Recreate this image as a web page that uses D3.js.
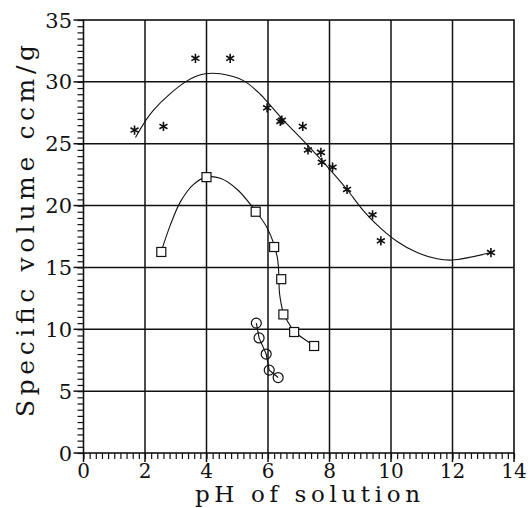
<!DOCTYPE html>
<html>
<head>
<meta charset="utf-8">
<script src="https://cdn.jsdelivr.net/npm/d3@7"></script>
<style>
  body { margin: 0; background: #fff; }
  svg { display: block; }
</style>
</head>
<body>
<div id="chart"></div>
<script>
// measured points: asterisks
const starPH  = [1.66, 2.6, 3.64, 4.77, 5.97, 6.4, 6.45, 7.13, 7.3, 7.72, 7.75, 8.1, 8.57, 9.4, 9.67, 13.25]
const starVol = [26.1, 26.4, 31.9, 31.9, 27.9, 26.8, 26.9, 26.4, 24.5, 24.3, 23.5, 23.1, 21.3, 19.25, 17.15, 16.2]
// fitted curve through the asterisks
const starFitPH  = [1.69, 2.27, 3.38, 3.96, 4.45, 5.2, 5.75, 5.97, 6.5, 7.2, 8.0, 8.57, 9.1, 9.65, 10.2, 10.85, 11.5, 12.0, 13.25]
const starFitVol = [25.5, 27.7, 30.1, 30.65, 30.65, 30.1, 29.0, 28.4, 26.9, 25.1, 22.95, 21.3, 19.6, 18.2, 17.1, 16.2, 15.7, 15.6, 16.2]

// squares
const sqPH  = [2.53, 4.0, 5.6, 6.2, 6.43, 6.5, 6.85, 7.5]
const sqVol = [16.25, 22.3, 19.5, 16.65, 14.05, 11.2, 9.78, 8.65]
// smooth part of the square curve
const sqFitPH  = [2.53, 2.82, 3.15, 3.57, 4.0, 4.45, 5.0, 5.52, 5.97, 6.3, 6.38, 6.5]
const sqFitVol = [16.3, 18.4, 20.3, 21.7, 22.3, 22.2, 21.3, 19.8, 18.2, 15.85, 12.8, 11.2]

// circles
const circPH  = [5.62, 5.71, 5.94, 6.04, 6.33]
const circVol = [10.5, 9.3, 8.0, 6.7, 6.1]

const xTicks = [0, 2, 4, 6, 8, 10, 12, 14]
const yTicks = [0, 5, 10, 15, 20, 25, 30, 35]

const W = 530, H = 508
const plotL = 83.5, plotR = 514, plotT = 20, plotB = 453
const FONT = "DejaVu Serif"

const svg = d3.select("#chart").append("svg")
  .attr("width", W).attr("height", H)

const x = d3.scaleLinear().domain([0, 14]).range([plotL, plotR])
const y = d3.scaleLinear().domain([0, 35]).range([plotB, plotT])

// grid
svg.append("g").selectAll("line")
  .data(xTicks.slice(1, -1)).join("line")
  .attr("x1", d => x(d)).attr("x2", d => x(d))
  .attr("y1", plotT).attr("y2", plotB)
  .attr("stroke", "#111").attr("stroke-width", 1.5)
svg.append("g").selectAll("line")
  .data(yTicks.slice(1, -1)).join("line")
  .attr("x1", plotL).attr("x2", plotR)
  .attr("y1", d => y(d)).attr("y2", d => y(d))
  .attr("stroke", "#111").attr("stroke-width", 1.5)

// frame
svg.append("rect")
  .attr("x", plotL).attr("y", plotT)
  .attr("width", plotR - plotL).attr("height", plotB - plotT)
  .attr("fill", "none").attr("stroke", "#111").attr("stroke-width", 1.6)

// axes with minor ticks
const xAxis = svg.append("g").attr("transform", `translate(0,${plotB})`)
xAxis.call(d3.axisBottom(x).ticks(70).tickSize(6).tickFormat(""))
xAxis.call(g => g.select(".domain").remove())
xAxis.selectAll("line").attr("stroke", "#111").attr("stroke-width", 1.2)

const yAxis = svg.append("g").attr("transform", `translate(${plotL},0)`)
yAxis.call(d3.axisLeft(y).ticks(70).tickSize(6).tickFormat(""))
yAxis.call(g => g.select(".domain").remove())
yAxis.selectAll("line").attr("stroke", "#111").attr("stroke-width", 1.2)

// major tick stubs
svg.append("g").selectAll("line")
  .data(xTicks).join("line")
  .attr("x1", d => x(d)).attr("x2", d => x(d))
  .attr("y1", plotB).attr("y2", plotB + 9)
  .attr("stroke", "#111").attr("stroke-width", 1.5)
svg.append("g").selectAll("line")
  .data(yTicks).join("line")
  .attr("x1", plotL - 10).attr("x2", plotL)
  .attr("y1", d => y(d)).attr("y2", d => y(d))
  .attr("stroke", "#111").attr("stroke-width", 1.5)

// tick labels
svg.append("g").selectAll("text")
  .data(xTicks).join("text")
  .attr("x", d => x(d)).attr("y", 478)
  .attr("text-anchor", "middle")
  .attr("font-family", FONT).attr("font-size", 20).attr("fill", "#111")
  .text(d => d)
svg.append("g").selectAll("text")
  .data(yTicks).join("text")
  .attr("x", 72).attr("y", d => y(d) + 7.5)
  .attr("text-anchor", "end")
  .attr("font-family", FONT).attr("font-size", 21).attr("fill", "#111")
  .text(d => d)

// axis titles
svg.append("text")
  .attr("x", 195).attr("y", 502)
  .attr("textLength", 225).attr("lengthAdjust", "spacing")
  .attr("font-family", FONT).attr("font-size", 23).attr("fill", "#111")
  .text("pH of solution")
svg.append("text")
  .attr("transform", "translate(34,417) rotate(-90)")
  .attr("textLength", 372).attr("lengthAdjust", "spacing")
  .attr("font-family", FONT).attr("font-size", 25).attr("fill", "#111")
  .text("Specific volume ccm/g")

// curves
const lineSmooth = d3.line()
  .x(d => x(d[0])).y(d => y(d[1]))
  .curve(d3.curveCatmullRom.alpha(0.5))
const lineStraight = d3.line()
  .x(d => x(d[0])).y(d => y(d[1]))

svg.append("path")
  .datum(d3.zip(starFitPH, starFitVol))
  .attr("fill", "none").attr("stroke", "#111").attr("stroke-width", 1.1)
  .attr("d", lineSmooth)

svg.append("path")
  .datum(d3.zip(sqFitPH, sqFitVol))
  .attr("fill", "none").attr("stroke", "#111").attr("stroke-width", 1.1)
  .attr("d", lineSmooth)
svg.append("path")
  .datum(d3.zip(sqPH, sqVol).slice(5))
  .attr("fill", "none").attr("stroke", "#111").attr("stroke-width", 1.1)
  .attr("d", lineStraight)

svg.append("path")
  .datum(d3.zip(circPH, circVol))
  .attr("fill", "none").attr("stroke", "#111").attr("stroke-width", 1.1)
  .attr("d", lineStraight)

// markers
svg.append("g").selectAll("path")
  .data(d3.zip(starPH, starVol)).join("path")
  .attr("transform", d => `translate(${x(d[0])},${y(d[1])})`)
  .attr("d", d3.symbol(d3.symbolAsterisk, 60))
  .attr("fill", "none").attr("stroke", "#111").attr("stroke-width", 1.6)

svg.append("g").selectAll("rect")
  .data(d3.zip(sqPH, sqVol)).join("rect")
  .attr("x", d => x(d[0]) - 4.5).attr("y", d => y(d[1]) - 4.5)
  .attr("width", 9).attr("height", 9)
  .attr("fill", "#fff").attr("stroke", "#111").attr("stroke-width", 1.2)

svg.append("g").selectAll("circle")
  .data(d3.zip(circPH, circVol)).join("circle")
  .attr("cx", d => x(d[0])).attr("cy", d => y(d[1]))
  .attr("r", 5)
  .attr("fill", "none").attr("stroke", "#111").attr("stroke-width", 1.2)
</script>
</body>
</html>
